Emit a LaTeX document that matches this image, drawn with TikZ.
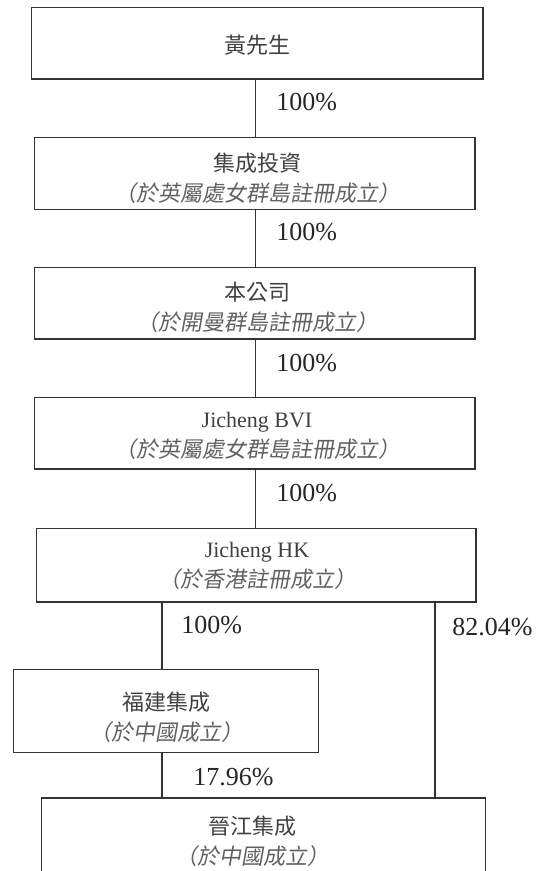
\documentclass[tikz,border=0pt]{standalone}
\usepackage{fontspec}
\setmainfont{Liberation Serif}
\newfontfamily\cjk{Noto Sans CJK TC}
\newfontfamily\cjkit[FakeSlant=0.18]{Noto Sans CJK TC}
\newcommand\subline[1]{\textcolor{black!62}{\cjkit #1}}
\begin{document}
\begin{tikzpicture}[x=0.5pt,y=-0.5pt,
  box/.style={draw=black!80, line width=0.65pt, inner sep=0pt, fill=none},
  conn/.style={draw=black!80, line width=0.6pt},
  cn/.style={inner sep=0pt, align=center, text=black!75, font=\fontsize{11pt}{15pt}\selectfont},
  pct/.style={inner sep=0pt, anchor=west, text=black!85, font=\fontsize{13pt}{15pt}\selectfont}]
\useasboundingbox (0,0) rectangle (536,871);
\clip (0,0) rectangle (536,871);
% boxes
\node[box, minimum width=225.85pt, minimum height=35.85pt] (b1) at (257.2,43.2) {};
\node[box, minimum width=220.35pt, minimum height=36pt] (b2) at (254.7,173.3) {};
\node[box, minimum width=220.35pt, minimum height=35.85pt] (b3) at (254.7,303.2) {};
\node[box, minimum width=220.35pt, minimum height=35.85pt] (b4) at (254.7,433.2) {};
\node[box, minimum width=219.65pt, minimum height=36.85pt] (b5) at (256.35,565.2) {};
\node[box, minimum width=152.7pt, minimum height=41.5pt] (b6) at (166,710.8) {};
\node[box, minimum width=221.8pt, minimum height=51pt] (b7) at (263.5,849) {};
% texts
\node[cn] (t1) at (257,45) {\cjk 黃先生};
\node[cn] (t2) at (257,178) {\cjk 集成投資\\\subline{（於英屬處女群島註冊成立）}};
\node[cn] (t3) at (257,307.5) {\cjk 本公司\\\subline{（於開曼群島註冊成立）}};
\node[cn] (t4) at (257,436) {Jicheng BVI\\\subline{（於英屬處女群島註冊成立）}};
\node[cn] (t5) at (257,566) {Jicheng HK\\\subline{（於香港註冊成立）}};
\node[cn] (t6) at (166,717.5) {\cjk 福建集成\\\subline{（於中國成立）}};
\node[cn] (t7) at (252,841) {\cjk 晉江集成\\\subline{（於中國成立）}};
% trunk coordinates
\coordinate (m) at (255.7,0);
\coordinate (l) at (162,0);
\coordinate (r) at (435,0);
% connectors
\draw[conn] (b1.south -| m) -- (b2.north -| m);
\draw[conn] (b2.south -| m) -- (b3.north -| m);
\draw[conn] (b3.south -| m) -- (b4.north -| m);
\draw[conn] (b4.south -| m) -- (b5.north -| m);
\draw[conn] (b5.south -| l) -- (b6.north -| l);
\draw[conn] (b6.south -| l) -- (b7.north -| l);
\draw[conn] (b5.south -| r) -- (b7.north -| r);
% percentages
\node[pct] (p1) at (276,101.7) {100\%};
\node[pct] (p2) at (276,231.7) {100\%};
\node[pct] (p3) at (276,363.3) {100\%};
\node[pct] (p4) at (276,492.7) {100\%};
\node[pct] (p5) at (181,625) {100\%};
\node[pct] (p6) at (452,627) {82.04\%};
\node[pct] (p7) at (193,776.7) {17.96\%};
\end{tikzpicture}
\end{document}
